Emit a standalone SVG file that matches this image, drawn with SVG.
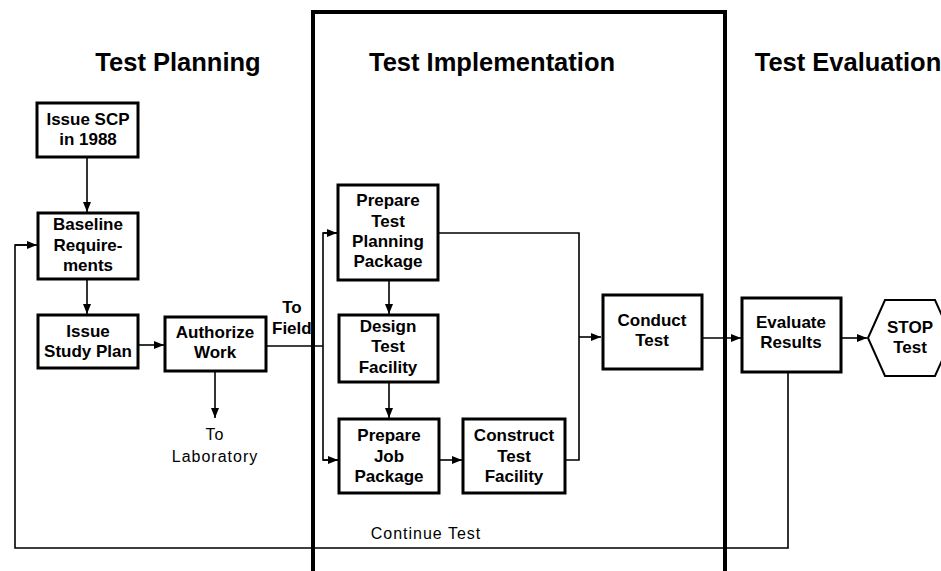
<svg xmlns="http://www.w3.org/2000/svg" width="941" height="571" viewBox="0 0 941 571">
<style>
.box{fill:#fff;stroke:#000;stroke-width:3}
.t{font-family:"Liberation Sans",Arial,sans-serif;font-size:17px;font-weight:bold;text-anchor:middle;fill:#000}
.lbl{font-family:"Liberation Sans",Arial,sans-serif;font-size:16px;text-anchor:middle;fill:#000;letter-spacing:1px}
.h{font-family:"Liberation Sans",Arial,sans-serif;font-size:25.5px;font-weight:bold;text-anchor:middle;fill:#000}
.c{fill:none;stroke:#000;stroke-width:1.6}
.frame{fill:none;stroke:#000;stroke-width:4}
</style>
<defs>
<marker id="ah" viewBox="0 0 10 8" refX="10" refY="4" markerWidth="10" markerHeight="8" markerUnits="userSpaceOnUse" orient="auto">
<path d="M0,0 L10,4 L0,8 Z" fill="#000"/>
</marker>
</defs>
<rect width="941" height="571" fill="#fff"/>
<g id="titles">
<text class="h" x="178" y="71">Test Planning</text>
<text class="h" x="492" y="71">Test Implementation</text>
<text class="h" x="848" y="71">Test Evaluation</text>
</g>
<g id="connectors">
<line class="c" x1="87" y1="157" x2="87" y2="212" marker-end="url(#ah)"/>
<line class="c" x1="87" y1="279" x2="87" y2="314" marker-end="url(#ah)"/>
<line class="c" x1="138" y1="345" x2="164" y2="345" marker-end="url(#ah)"/>
<line class="c" x1="266" y1="346" x2="323" y2="346"/>
<line class="c" x1="215" y1="371" x2="215" y2="418" marker-end="url(#ah)"/>
<polyline class="c" points="338,233 323,233 323,460 338,460"/>
<line class="c" x1="323" y1="233" x2="337" y2="233" marker-end="url(#ah)"/>
<line class="c" x1="323" y1="460" x2="338" y2="460" marker-end="url(#ah)"/>
<line class="c" x1="389" y1="280" x2="389" y2="314" marker-end="url(#ah)"/>
<line class="c" x1="389" y1="382" x2="389" y2="418" marker-end="url(#ah)"/>
<line class="c" x1="439" y1="460" x2="462" y2="460" marker-end="url(#ah)"/>
<polyline class="c" points="438,233 579,233 579,460 565,460"/>
<line class="c" x1="579" y1="337" x2="601" y2="337" marker-end="url(#ah)"/>
<line class="c" x1="702" y1="338" x2="741" y2="338" marker-end="url(#ah)"/>
<line class="c" x1="841" y1="338" x2="867" y2="338" marker-end="url(#ah)"/>
<polyline class="c" points="788,372 788,548 15,548 15,245 30,245"/>
<line class="c" x1="15" y1="245" x2="37" y2="245" marker-end="url(#ah)"/>
<text class="t" x="292" y="313">To</text>
<text class="t" x="272" y="334" style="text-anchor:start">Field</text>
<text class="lbl" x="215" y="440">To</text>
<text class="lbl" x="215" y="462">Laboratory</text>
<text class="lbl" x="426" y="539">Continue Test</text>
</g>
<g id="frame">
<polyline class="frame" points="313,571 313,12 725,12 725,571"/>
</g>
<g id="issue-scp">
<rect class="box" x="37" y="103" width="101" height="54"/>
<text class="t" x="88" y="125">Issue SCP</text>
<text class="t" x="88" y="145">in 1988</text>
</g>
<g id="baseline-req">
<rect class="box" x="38" y="213" width="100" height="66"/>
<text class="t" x="88" y="230">Baseline</text>
<text class="t" x="88" y="251">Require-</text>
<text class="t" x="88" y="271">ments</text>
</g>
<g id="issue-study-plan">
<rect class="box" x="38" y="315" width="100" height="53"/>
<text class="t" x="88" y="337">Issue</text>
<text class="t" x="88" y="357">Study Plan</text>
</g>
<g id="authorize-work">
<rect class="box" x="165" y="317" width="101" height="54"/>
<text class="t" x="215" y="338">Authorize</text>
<text class="t" x="215" y="358">Work</text>
</g>
<g id="prepare-tpp">
<rect class="box" x="338" y="185" width="100" height="95"/>
<text class="t" x="388" y="206">Prepare</text>
<text class="t" x="388" y="227">Test</text>
<text class="t" x="388" y="247">Planning</text>
<text class="t" x="388" y="267">Package</text>
</g>
<g id="design-tf">
<rect class="box" x="339" y="315" width="99" height="67"/>
<text class="t" x="388" y="332">Design</text>
<text class="t" x="388" y="352">Test</text>
<text class="t" x="388" y="373">Facility</text>
</g>
<g id="prepare-jp">
<rect class="box" x="339" y="419" width="100" height="74"/>
<text class="t" x="389" y="441">Prepare</text>
<text class="t" x="389" y="462">Job</text>
<text class="t" x="389" y="482">Package</text>
</g>
<g id="construct-tf">
<rect class="box" x="463" y="419" width="102" height="74"/>
<text class="t" x="514" y="441">Construct</text>
<text class="t" x="514" y="462">Test</text>
<text class="t" x="514" y="482">Facility</text>
</g>
<g id="conduct-test">
<rect class="box" x="603" y="295" width="99" height="74"/>
<text class="t" x="652" y="326">Conduct</text>
<text class="t" x="652" y="346">Test</text>
</g>
<g id="evaluate-results">
<rect class="box" x="742" y="298" width="99" height="74"/>
<text class="t" x="791" y="328">Evaluate</text>
<text class="t" x="791" y="348">Results</text>
</g>
<g id="stop-test">
<polygon points="868,338 885,300 935,300 952,338 935,376 885,376" fill="#fff" stroke="#000" stroke-width="2"/>
<text class="t" x="910" y="333">STOP</text>
<text class="t" x="910" y="353">Test</text>
</g>
</svg>
